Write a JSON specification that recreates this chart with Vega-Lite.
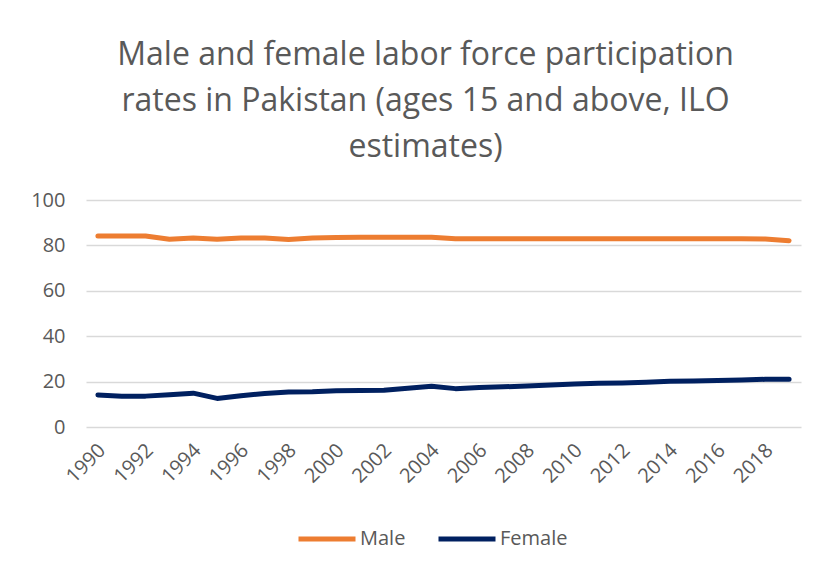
{
  "$schema": "https://vega.github.io/schema/vega-lite/v6.json",
  "width": 715,
  "height": 227,
  "padding": {"left": 6, "top": 39, "right": 20, "bottom": 10},
  "background": "white",
  "title": {
    "text": ["Male and female labor force participation", "rates in Pakistan (ages 15 and above, ILO", "estimates)"],
    "font": "Open Sans",
    "fontSize": 32,
    "fontWeight": "normal",
    "color": "#595959",
    "lineHeight": 46,
    "anchor": "middle",
    "dx": -18,
    "offset": 26
  },
  "data": {
    "values": [
      {"year": 1990, "series": "Male", "value": 84.1},
      {"year": 1991, "series": "Male", "value": 84.1},
      {"year": 1992, "series": "Male", "value": 84.1},
      {"year": 1993, "series": "Male", "value": 82.7},
      {"year": 1994, "series": "Male", "value": 83.3},
      {"year": 1995, "series": "Male", "value": 82.7},
      {"year": 1996, "series": "Male", "value": 83.3},
      {"year": 1997, "series": "Male", "value": 83.3},
      {"year": 1998, "series": "Male", "value": 82.6},
      {"year": 1999, "series": "Male", "value": 83.3},
      {"year": 2000, "series": "Male", "value": 83.5},
      {"year": 2001, "series": "Male", "value": 83.6},
      {"year": 2002, "series": "Male", "value": 83.6},
      {"year": 2003, "series": "Male", "value": 83.6},
      {"year": 2004, "series": "Male", "value": 83.6},
      {"year": 2005, "series": "Male", "value": 82.9},
      {"year": 2006, "series": "Male", "value": 82.9},
      {"year": 2007, "series": "Male", "value": 82.9},
      {"year": 2008, "series": "Male", "value": 82.9},
      {"year": 2009, "series": "Male", "value": 82.9},
      {"year": 2010, "series": "Male", "value": 82.9},
      {"year": 2011, "series": "Male", "value": 82.9},
      {"year": 2012, "series": "Male", "value": 82.9},
      {"year": 2013, "series": "Male", "value": 82.9},
      {"year": 2014, "series": "Male", "value": 82.9},
      {"year": 2015, "series": "Male", "value": 82.9},
      {"year": 2016, "series": "Male", "value": 82.9},
      {"year": 2017, "series": "Male", "value": 82.9},
      {"year": 2018, "series": "Male", "value": 82.8},
      {"year": 2019, "series": "Male", "value": 82.1},
      {"year": 1990, "series": "Female", "value": 14.1},
      {"year": 1991, "series": "Female", "value": 13.6},
      {"year": 1992, "series": "Female", "value": 13.6},
      {"year": 1993, "series": "Female", "value": 14.2},
      {"year": 1994, "series": "Female", "value": 14.9},
      {"year": 1995, "series": "Female", "value": 12.6},
      {"year": 1996, "series": "Female", "value": 13.8},
      {"year": 1997, "series": "Female", "value": 14.8},
      {"year": 1998, "series": "Female", "value": 15.4},
      {"year": 1999, "series": "Female", "value": 15.5},
      {"year": 2000, "series": "Female", "value": 16.0},
      {"year": 2001, "series": "Female", "value": 16.1},
      {"year": 2002, "series": "Female", "value": 16.2},
      {"year": 2003, "series": "Female", "value": 17.1},
      {"year": 2004, "series": "Female", "value": 18.0},
      {"year": 2005, "series": "Female", "value": 16.9},
      {"year": 2006, "series": "Female", "value": 17.4},
      {"year": 2007, "series": "Female", "value": 17.7},
      {"year": 2008, "series": "Female", "value": 18.1},
      {"year": 2009, "series": "Female", "value": 18.5},
      {"year": 2010, "series": "Female", "value": 18.9},
      {"year": 2011, "series": "Female", "value": 19.3},
      {"year": 2012, "series": "Female", "value": 19.4},
      {"year": 2013, "series": "Female", "value": 19.7},
      {"year": 2014, "series": "Female", "value": 20.1},
      {"year": 2015, "series": "Female", "value": 20.3},
      {"year": 2016, "series": "Female", "value": 20.5},
      {"year": 2017, "series": "Female", "value": 20.7},
      {"year": 2018, "series": "Female", "value": 21.0},
      {"year": 2019, "series": "Female", "value": 21.0}
    ]
  },
  "mark": {"type": "line", "strokeWidth": 5, "strokeCap": "round", "strokeJoin": "round"},
  "encoding": {
    "x": {
      "field": "year",
      "type": "ordinal",
      "scale": {"type": "point", "padding": 0.5},
      "axis": {
        "title": null,
        "values": [1990, 1992, 1994, 1996, 1998, 2000, 2002, 2004, 2006, 2008, 2010, 2012, 2014, 2016, 2018],
        "labelAngle": -45,
        "labelAlign": "right",
        "labelBaseline": "middle",
        "labelFont": "Open Sans",
        "labelFontSize": 20,
        "labelColor": "#595959",
        "labelPadding": 20,
        "labelOffset": 4,
        "ticks": false,
        "domain": false,
        "grid": false
      }
    },
    "y": {
      "field": "value",
      "type": "quantitative",
      "scale": {"domain": [0, 100]},
      "axis": {
        "title": null,
        "values": [0, 20, 40, 60, 80, 100],
        "labelFont": "Open Sans",
        "labelFontSize": 20,
        "labelColor": "#595959",
        "labelPadding": 21,
        "ticks": false,
        "domain": false,
        "gridColor": "#d9d9d9",
        "gridWidth": 1.5,
        "minExtent": 80,
        "maxExtent": 80
      }
    },
    "color": {
      "field": "series",
      "type": "nominal",
      "scale": {"domain": ["Male", "Female"], "range": ["#ED7D31", "#002060"]},
      "legend": {
        "title": null,
        "orient": "none",
        "legendX": 210,
        "legendY": 308,
        "direction": "horizontal",
        "symbolType": "stroke",
        "symbolSize": 3249,
        "symbolStrokeWidth": 5,
        "labelFont": "Open Sans",
        "labelFontSize": 20,
        "labelColor": "#595959",
        "columnPadding": 22,
        "labelOffset": 2
      }
    }
  },
  "config": {
    "view": {"stroke": null}
  }
}
